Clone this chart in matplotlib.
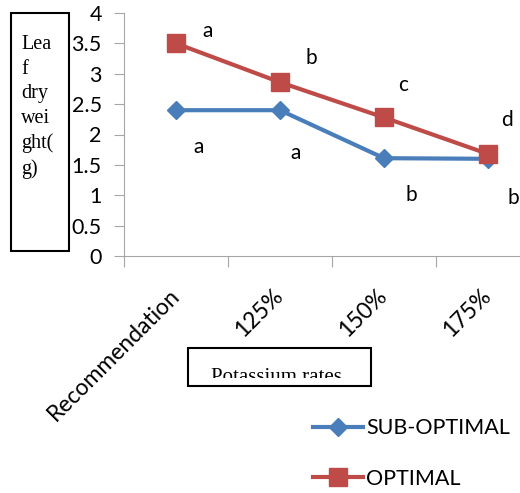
import matplotlib.pyplot as plt
from matplotlib.patches import Rectangle

categories = ['Recommendation', '125%', '150%', '175%']
sub_optimal = [2.40, 2.40, 1.61, 1.60]
optimal = [3.50, 2.86, 2.28, 1.68]
sub_letters = ['a', 'a', 'b', 'b']
opt_letters = ['a', 'b', 'c', 'd']

blue = '#4A7EBB'
red = '#BE4B48'
grey = '#A6A6A6'

# label offsets from each point (x in categories, y in data units)
opt_dx = [0.30, 0.30, 0.18, 0.18]
opt_dy = [0.21, 0.40, 0.54, 0.56]
sub_dx = [0.22, 0.15, 0.26, 0.24]
sub_dy = [-0.61, -0.71, -0.61, -0.64]

fig = plt.figure(figsize=(5.2, 4.93), dpi=100)
ax = fig.add_axes([124 / 520, 237 / 493, 416 / 520, 243 / 493])

x = list(range(len(categories)))
ax.plot(x, sub_optimal, color=blue, lw=3, marker='D', ms=9.5, mec=blue, label='SUB-OPTIMAL', clip_on=False)
ax.plot(x, optimal, color=red, lw=3, marker='s', ms=12.5, mec=red, label='OPTIMAL', clip_on=False)

# letters of significance
for i in x:
    ax.text(i + opt_dx[i], optimal[i] + opt_dy[i], opt_letters[i], fontsize=15, family='Lato',
            ha='center', va='center')
    ax.text(i + sub_dx[i], sub_optimal[i] + sub_dy[i], sub_letters[i], fontsize=15, family='Lato',
            ha='center', va='center')

ax.set_xlim(-0.5, 3.5)
ax.set_ylim(0, 4)
ax.set_yticks([0, 0.5, 1, 1.5, 2, 2.5, 3, 3.5, 4])
ax.set_yticklabels(['0', '0.5', '1', '1.5', '2', '2.5', '3', '3.5', '4'], family='Lato', fontsize=15.5)
ax.set_xticks([-0.5, 0.5, 1.5, 2.5])
ax.set_xticklabels([])
ax.set_xticks(x, minor=True)
ax.set_xticklabels(categories, minor=True, rotation=45, ha='right', va='center',
                   rotation_mode='anchor', family='Lato', fontsize=16.5)
ax.tick_params(axis='x', which='minor', length=0, pad=26)
ax.tick_params(axis='x', which='major', length=8, color=grey, direction='out')
ax.tick_params(axis='y', length=7, color=grey, pad=9)
for s in ['top', 'right']:
    ax.spines[s].set_visible(False)
ax.spines['left'].set_color(grey)
ax.spines['bottom'].set_color(grey)

# y label box
fig.patches.append(Rectangle((11 / 520, 1 - 251 / 493), 58 / 520, 238 / 493,
                             transform=fig.transFigure, fill=False, ec='black', lw=1.5))
fig.text(21 / 520, 1 - 35 / 493, 'Lea\nf\ndry\nwei\nght(\ng)', family='Liberation Serif',
         fontsize=14.5, va='top', ha='left', linespacing=1.4)

# x label box (text cut off by the box)
fig.patches.append(Rectangle((188 / 520, 1 - 386 / 493), 183 / 520, 38 / 493,
                             transform=fig.transFigure, fill=False, ec='black', lw=1.5))
t = fig.text(276 / 520, 1 - 382 / 493, 'Potassium rates', family='Liberation Serif',
             fontsize=15, ha='center', va='baseline')
t.set_clip_path(Rectangle((188 / 520, 1 - 378 / 493), 183 / 520, 30 / 493, transform=fig.transFigure))

leg = fig.legend(loc='upper left', bbox_to_anchor=(294 / 520, 1 - 399 / 493), frameon=False,
                 prop={'family': 'Lato', 'size': 15.5}, labelspacing=1.4, handlelength=2.3,
                 handletextpad=0.15)

fig.savefig('out.png', dpi=100)
